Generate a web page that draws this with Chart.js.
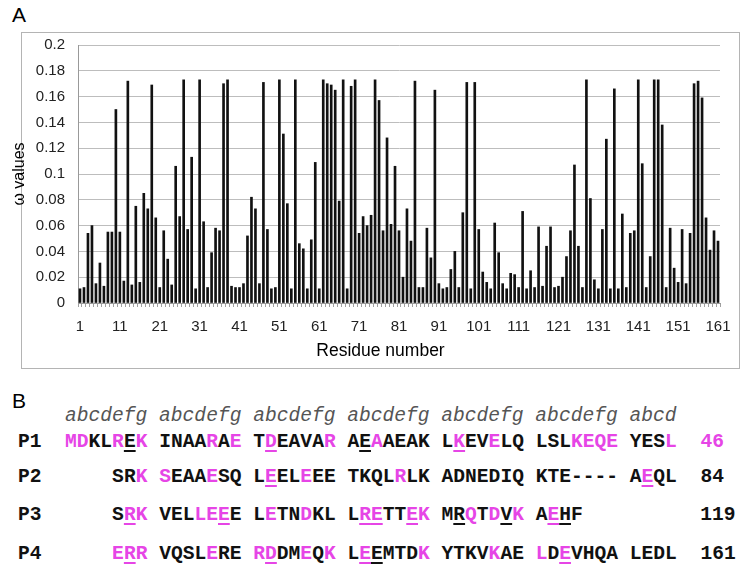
<!DOCTYPE html>
<html>
<head>
<meta charset="utf-8">
<script src="https://cdn.jsdelivr.net/npm/chart.js@4"></script>
<style>
  body { margin: 0; background: #fff; width: 747px; height: 567px; position: relative; overflow: hidden;
         font-family: "Liberation Sans", Arial, sans-serif; }
  #c { position: absolute; left: 0; top: 0; }
  .panel { position: absolute; font-size: 21px; line-height: 21px; color: #000; }
  .seq { position: absolute; left: 18px; font-family: "Liberation Mono", "Courier New", monospace;
         font-size: 19.6px; line-height: 20px; white-space: pre; }
  .heptad { font-style: italic; color: #555; }
  .row { font-weight: bold; color: #111; }
  .pk { color: #e645e6; }
  .ul { text-decoration: underline; text-underline-offset: 3px; text-decoration-thickness: 2px; }
</style>
</head>
<body>
<div class="panel" style="left:12px;top:4px">A</div>
<div class="panel" style="left:12px;top:390px">B</div>
<canvas id="c" width="747" height="375"></canvas>
<div id="seqs"></div>
<script>
// omega value per residue (1..161)
const omega = [
  0.011, 0.012, 0.054, 0.060, 0.015, 0.031, 0.013, 0.055, 0.055, 0.150,
  0.055, 0.017, 0.172, 0.014, 0.075, 0.016, 0.085, 0.073, 0.169, 0.066,
  0.012, 0.056, 0.034, 0.014, 0.106, 0.067, 0.173, 0.057, 0.113, 0.011,
  0.173, 0.063, 0.012, 0.039, 0.058, 0.056, 0.170, 0.173, 0.013, 0.012,
  0.012, 0.015, 0.052, 0.082, 0.073, 0.015, 0.171, 0.057, 0.011, 0.012,
  0.173, 0.131, 0.077, 0.011, 0.173, 0.046, 0.042, 0.011, 0.049, 0.109,
  0.011, 0.173, 0.170, 0.169, 0.165, 0.079, 0.173, 0.011, 0.168, 0.173,
  0.054, 0.067, 0.060, 0.068, 0.173, 0.157, 0.056, 0.128, 0.061, 0.106,
  0.056, 0.020, 0.073, 0.048, 0.172, 0.012, 0.012, 0.058, 0.035, 0.165,
  0.015, 0.011, 0.012, 0.026, 0.040, 0.012, 0.070, 0.171, 0.011, 0.171,
  0.057, 0.024, 0.016, 0.011, 0.062, 0.039, 0.015, 0.011, 0.023, 0.022,
  0.012, 0.071, 0.011, 0.025, 0.012, 0.059, 0.013, 0.044, 0.059, 0.012,
  0.013, 0.020, 0.036, 0.056, 0.107, 0.044, 0.012, 0.173, 0.081, 0.018,
  0.011, 0.057, 0.127, 0.011, 0.166, 0.011, 0.069, 0.012, 0.054, 0.056,
  0.173, 0.108, 0.012, 0.036, 0.173, 0.173, 0.138, 0.012, 0.058, 0.027,
  0.016, 0.057, 0.015, 0.054, 0.170, 0.172, 0.159, 0.066, 0.041, 0.056,
  0.048
];
const residues = omega.map((v, i) => String(i + 1));

// panel B: heptad register and the four helices
const heptad = 'abcdefg abcdefg abcdefg abcdefg abcdefg abcdefg abcd';
const names = ['P1', 'P2', 'P3', 'P4'];
const seqs = [
  'MDKLREK INAARAE TDEAVAR AEAAEAK LKEVELQ LSLKEQE YESL',
  '    SRK SEAAESQ LEELEEE TKQLRLK ADNEDIQ KTE---- AEQL',
  '    SRK VELLEEE LETNDKL LRETTEK MRQTDVK AEHF',
  '    ERR VQSLERE RDDMEQK LEEMTDK YTKVKAE LDEVHQA LEDL'
];
// p = pink, u = underlined, q = pink + underlined
const marks = [
  'pp..pup ....p.p .q....p .up.... .q..p.. ...pppp ...p',
  '    ..p p...p.. .q..p.. ....p.. ....... ....... .q..',
  '    .qp ...ppq. .p..p.. .qq..qp .up.pup .qu.',
  '    pqp ....p.. pq..p.p .qu...p ....p.. p.q.... ....'
];
const ends = ['46', '84', '119', '161'];
const endPink = [true, false, false, false];

const frame = {
  id: 'frame',
  beforeDraw(chart) {
    const ctx = chart.ctx;
    ctx.save();
    ctx.strokeStyle = '#b4b4b4';
    ctx.lineWidth = 1;
    ctx.strokeRect(21.5, 32.5, 718, 336);
    ctx.restore();
  }
};

Chart.defaults.font.family = '"Liberation Sans", Arial, sans-serif';

new Chart(document.getElementById('c'), {
  type: 'bar',
  data: {
    labels: residues,
    datasets: [{
      data: omega,
      backgroundColor: '#111',
      barThickness: 2,
      borderWidth: 0
    }]
  },
  options: {
    responsive: false,
    animation: false,
    layout: { padding: { left: 21, right: 7, top: 45, bottom: 4 } },
    plugins: {
      legend: { display: false },
      tooltip: { enabled: false },
      title: {
        display: true,
        text: 'Residue number',
        position: 'bottom',
        color: '#000',
        font: { size: 17.5, weight: 'normal' },
        padding: { top: 0, bottom: 9 }
      }
    },
    scales: {
      x: {
        afterFit(s) { s.height = 38; },
        grid: { offset: true, drawOnChartArea: false, drawTicks: true, tickLength: 4, color: '#a0a0a0' },
        border: { color: '#999' },
        ticks: {
          autoSkip: false,
          maxRotation: 0,
          padding: 11,
          color: '#222',
          font: { size: 15 },
          callback: (v, i) => (i % 10 === 0 ? residues[i] : '')
        }
      },
      y: {
        min: 0,
        max: 0.2,
        afterFit(s) { s.width = 57; },
        grid: { color: '#bdbdbd', drawTicks: false },
        border: { color: '#999' },
        ticks: {
          stepSize: 0.02,
          padding: 13,
          color: '#222',
          font: { size: 15 },
          callback: v => String(+v.toFixed(2))
        },
        title: {
          display: true,
          text: 'ω values',
          color: '#000',
          font: { size: 16 },
          padding: { top: -11, bottom: 0 }
        }
      },
      y2: {
        type: 'linear',
        position: 'right',
        afterFit(s) { s.width = 20; },
        grid: { display: false },
        border: { display: false },
        ticks: { display: false }
      }
    }
  },
  plugins: [frame]
});

// sequence panel as html text
const box = document.getElementById('seqs');
const hep = document.createElement('div');
hep.className = 'seq heptad';
hep.style.top = '406px';
hep.textContent = '    ' + heptad;
box.appendChild(hep);

const tops = [432, 467, 505, 544];
seqs.forEach((s, r) => {
  const div = document.createElement('div');
  div.className = 'seq row';
  div.style.top = tops[r] + 'px';
  div.appendChild(document.createTextNode(names[r] + '  '));
  for (let i = 0; i < s.length; i++) {
    const m = marks[r][i];
    const sp = document.createElement('span');
    sp.textContent = s[i];
    if (m === 'p' || m === 'q') sp.classList.add('pk');
    if (m === 'u' || m === 'q') sp.classList.add('ul');
    div.appendChild(sp);
  }
  div.appendChild(document.createTextNode(' '.repeat(54 - s.length)));
  const end = document.createElement('span');
  end.textContent = ends[r];
  if (endPink[r]) end.classList.add('pk');
  div.appendChild(end);
  box.appendChild(div);
});
</script>
</body>
</html>
